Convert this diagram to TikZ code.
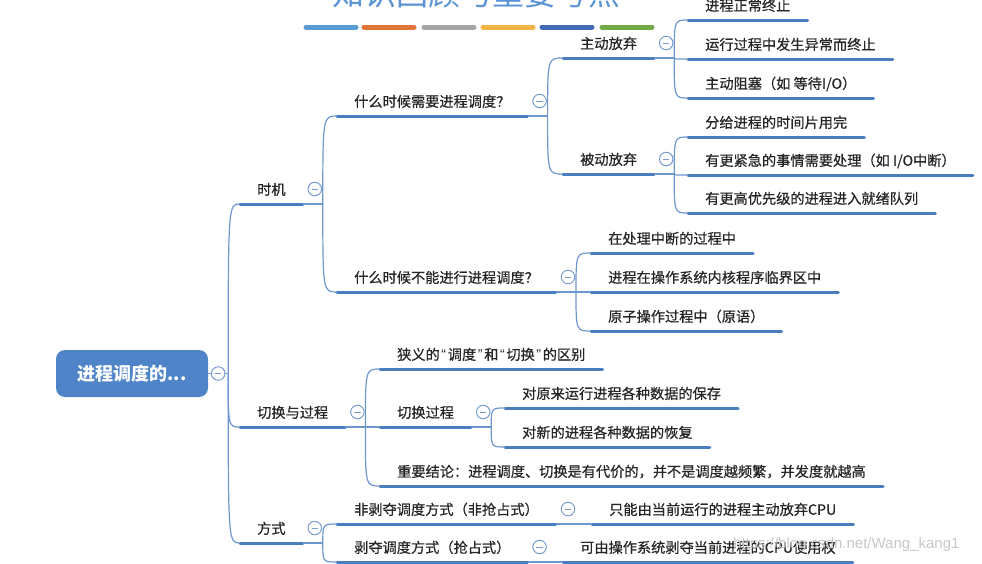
\documentclass[tikz,border=0pt]{standalone}
\usepackage{fontspec}
\setmainfont{Noto Sans CJK SC}
\newfontfamily\cjkb{Noto Sans CJK SC}[FakeBold=0.6]
\newfontfamily\wmfont{Liberation Sans}
\usetikzlibrary{calc}
\newcommand\myquote[1]{\makebox[8pt]{\wmfont #1}}
\definecolor{lineblue}{HTML}{4A7DC2}
\definecolor{thinblue}{HTML}{6E97D0}
\definecolor{foldblue}{HTML}{7A9CD0}
\definecolor{rootblue}{HTML}{4F84C8}
\definecolor{txt}{HTML}{262626}
\definecolor{titleblue}{HTML}{5B93D3}
\definecolor{barA}{HTML}{5B9BD5}
\definecolor{barB}{HTML}{E0763A}
\definecolor{barC}{HTML}{A5A5A5}
\definecolor{barD}{HTML}{F2B544}
\definecolor{barE}{HTML}{4169B8}
\definecolor{barF}{HTML}{72A845}
\begin{document}
\begin{tikzpicture}[x=1pt,y=-1pt,
  topic/.style={anchor=south west, inner xsep=17pt, inner ysep=0pt, text height=12pt, text depth=9pt, font=\cjkb\fontsize{14.2}{16}\selectfont, text=txt},
  rootbox/.style={rounded corners=9pt, fill=rootblue, text=white, minimum width=152pt, minimum height=47pt, inner sep=0pt, font=\fontsize{18}{20}\selectfont\bfseries},
  uline/.style={draw=lineblue, line width=3pt, line cap=round},
  conn/.style={draw=thinblue, line width=1.2pt},
  fold/.style={circle, draw=foldblue, fill=white, line width=1pt, minimum size=13.5pt, inner sep=0pt,
    path picture={\draw[foldblue, line width=0.9pt] ([xshift=3.5pt]path picture bounding box.west) -- ([xshift=-3.5pt]path picture bounding box.east);}},
  bar/.style={line width=5pt, line cap=round},
]
\clip (0,0) rectangle (982,563);
\useasboundingbox (0,0) rectangle (982,563);

% title (cut off at the top)
\node[anchor=base, font=\fontsize{32}{32}\selectfont, text=titleblue, inner sep=0pt] (title) at (476,5) {知识回顾与重要考点};
\foreach \xa/\c in {306/barA,364/barB,424/barC,483/barD,542/barE,602/barF}
  \draw[bar, draw=\c] (\xa,27) -- ++(50,0);

% root
\node[rootbox] (r) at (132,373.5) {进程调度的...};

% level 1
\node[topic] (t1) at (240,204) {时机};
\node[topic] (t2) at (240,427) {切换与过程};
\node[topic] (t3) at (240,543) {方式};

% 时机
\node[topic] (a1) at (337,116) {什么时候需要进程调度？};
\node[topic] (a2) at (337,292) {什么时候不能进行进程调度？};
\node[topic] (b1) at (563,58) {主动放弃};
\node[topic] (b2) at (563,174) {被动放弃};
\node[topic] (c1) at (688,20) {进程正常终止};
\node[topic] (c2) at (688,59) {运行过程中发生异常而终止};
\node[topic] (c3) at (688,98) {主动阻塞（如 等待I/O）};
\node[topic] (c4) at (688,137) {分给进程的时间片用完};
\node[topic] (c5) at (688,175) {有更紧急的事情需要处理（如 I/O中断）};
\node[topic] (c6) at (688,213) {有更高优先级的进程进入就绪队列};
\node[topic] (d1) at (591,253) {在处理中断的过程中};
\node[topic] (d2) at (591,292) {进程在操作系统内核程序临界区中};
\node[topic] (d3) at (591,331) {原子操作过程中（原语）};

% 切换与过程
\node[topic] (e1) at (380,369) {狭义的\myquote{“}调度\myquote{”}和\myquote{“}切换\myquote{”}的区别};
\node[topic] (e2) at (380,427) {切换过程};
\node[topic] (e3) at (380,486) {重要结论：进程调度、切换是有代价的，并不是调度越频繁，并发度就越高};
\node[topic] (f1) at (505,408) {对原来运行进程各种数据的保存};
\node[topic] (f2) at (505,447) {对新的进程各种数据的恢复};

% 方式
\node[topic] (g1) at (337,524) {非剥夺调度方式（非抢占式）};
\node[topic] (g2) at (337,562) {剥夺调度方式（抢占式）};
\node[topic] (h1) at (592,524) {只能由当前运行的进程主动放弃CPU};
\node[topic] (h2) at (563,562) {可由操作系统剥夺当前进程的CPU使用权};

% underlines
\foreach \n in {t1,t2,t3,a1,a2,b1,b2,c1,c2,c3,c4,c5,c6,d1,d2,d3,e1,e2,e3,f1,f2,g1,g2,h1,h2}
  \draw[uline] (\n.south west) -- (\n.south east);

% junctions
\coordinate (j-r) at ($(r.east)+(20,0)$);
\foreach \p in {t1,t2,t3,a1,a2,b1,b2,e2}
  \coordinate (j-\p) at ($(\p.south east)+(20,0)$);

% connectors
\draw[conn] (r.east) -- (j-r);
\foreach \p in {t1,t2,t3,a1,a2,b1,b2,e2}
  \draw[conn] (\p.south east) -- (j-\p);
\foreach \p/\c in {r/t1,r/t2,r/t3,t1/a1,t1/a2,a1/b1,a1/b2,b1/c1,b1/c2,b1/c3,b2/c4,b2/c5,b2/c6,a2/d1,a2/d2,a2/d3,t2/e1,t2/e2,t2/e3,e2/f1,e2/f2,t3/g1,t3/g2}
  \draw[conn] (j-\p) .. controls (j-\p |- \c.south west) and (j-\p |- \c.south west) .. (\c.south west);
\draw[conn] (g1.south east) -- (h1.south west);
\draw[conn] (g2.south east) -- (h2.south west);

% fold buttons
\node[fold] (fold-r) at ($(r.east)+(10,0)$) {};
\foreach \p in {t1,t2,t3,a1,a2,b1,b2,e2,g1,g2}
  \node[fold] (fold-\p) at ($(\p.south east)+(12,-15)$) {};

% watermark
\node[anchor=west, font=\wmfont\fontsize{15}{15}\selectfont, text=black!22, inner sep=0pt] (wm) at (733,545) {https://blog.csdn.net/Wang\_kang1};
\end{tikzpicture}
\end{document}
